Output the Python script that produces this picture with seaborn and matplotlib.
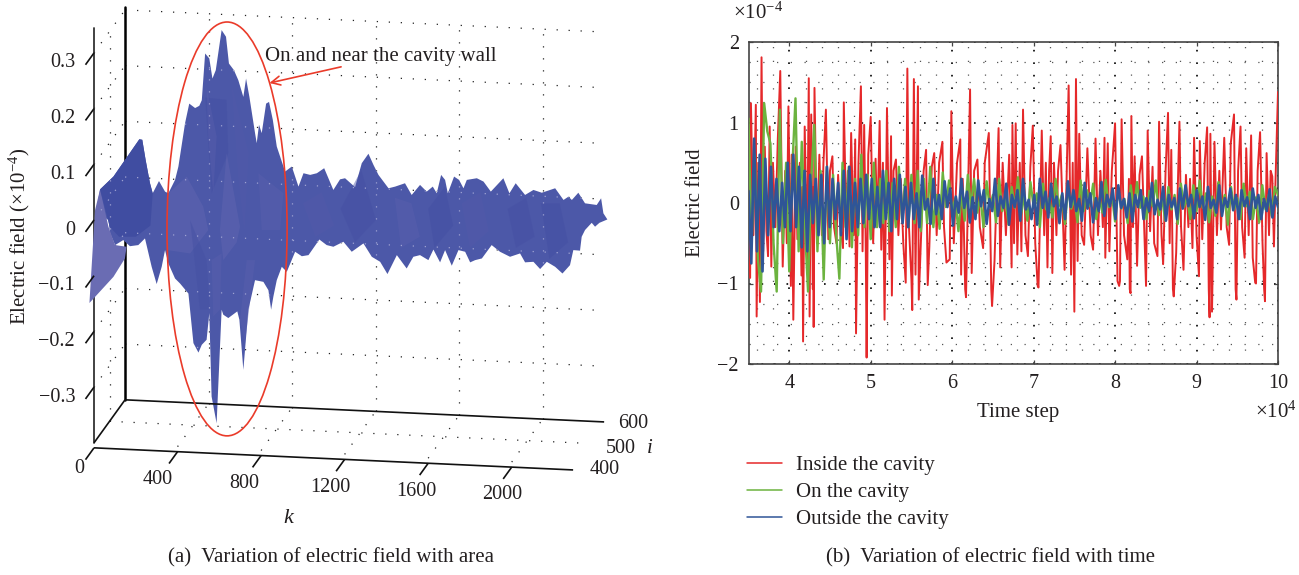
import numpy as np
import pandas as pd
import seaborn as sns
import matplotlib.pyplot as plt
from matplotlib.patches import Ellipse, Polygon
from matplotlib.ticker import MultipleLocator, FixedLocator

# left panel: silhouette of the surface, k along the axis, field in 1e-4
upper_k = [10, 29, 93, 217, 231, 247, 268, 281, 311, 340, 356, 388, 404, 436, 456, 484, 504, 516, 532, 552, 567, 583,
           611, 632, 646, 670, 691, 715, 728, 744, 771, 779, 790, 803, 824, 838, 856, 875, 899, 915, 947, 979, 1003,
           1035, 1067, 1102, 1146, 1178, 1202, 1250, 1282, 1314, 1338, 1362, 1410, 1442, 1489, 1521, 1561, 1593, 1622,
           1641, 1662, 1681, 1694, 1724, 1748, 1769, 1785, 1833, 1865, 1900, 1960, 1989, 2019, 2064, 2104, 2144, 2208,
           2248, 2272, 2288, 2319, 2351, 2407, 2428, 2439, 2458]
upper_field = [.015, .055, .078, .145, .144, .108, .066, .048, .070, .051, .048, .072, .096, .174, .209, .201, .205,
               .215, .299, .290, .254, .269, .341, .329, .281, .269, .251, .221, .254, .221, .156, .138, .171, .156,
               .209, .212, .180, .132, .105, .087, .096, .060, .084, .081, .084, .093, .054, .073, .075, .059, .102,
               .119, .099, .081, .057, .060, .066, .045, .063, .051, .060, .048, .081, .072, .048, .078, .072, .057,
               .072, .075, .069, .051, .075, .048, .066, .045, .054, .049, .057, .036, .042, .036, .049, .030, .027,
               .039, .012, .001]
lower_k = [2420, 2399, 2383, 2351, 2335, 2327, 2295, 2279, 2243, 2208, 2168, 2136, 2104, 2064, 2040, 1992, 1944, 1904,
           1857, 1825, 1801, 1777, 1745, 1713, 1681, 1657, 1625, 1601, 1561, 1529, 1497, 1450, 1405, 1370, 1330, 1290,
           1234, 1194, 1146, 1114, 1079, 1027, 995, 963, 923, 899, 875, 859, 848, 835, 811, 771, 739, 715, 696, 686,
           643, 619, 611, 587, 563, 552, 539, 516, 500, 476, 452, 412, 388, 356, 340, 324, 300, 276, 244, 212, 172,
           140, 101, 77, 69]
lower_field = [-.005, -.012, -.005, -.018, -.030, -.055, -.054, -.081, -.096, -.084, -.075, -.088, -.075, -.076, -.060,
               -.066, -.057, -.045, -.069, -.072, -.076, -.057, -.054, -.082, -.054, -.076, -.053, -.072, -.063, -.066,
               -.087, -.063, -.097, -.075, -.066, -.042, -.057, -.039, -.048, -.045, -.035, -.063, -.065, -.057, -.093,
               -.084, -.108, -.137, -.161, -.126, -.111, -.108, -.161, -.269, -.179, -.164, -.176, -.170, -.161, -.365,
               -.317, -.167, -.215, -.224, -.238, -.221, -.132, -.114, -.105, -.078, -.054, -.084, -.115, -.084, -.033,
               -.045, -.047, -.036, -.045, -.024, .0]
flap_k = [5, -22, 93, 148, 156, 101, 69, 29]
flap_field = [.018, -.149, -.102, -.069, -.048, -.045, -.012, .055]
hump_k = [29, 93, 217, 231, 247, 268, 281, 270, 200, 120, 75]
hump_field = [.055, .078, .145, .144, .108, .066, .048, -.01, -.03, -.03, -.012]
# shaded facets inside the silhouette: k list, field list, colour
facets = [
    ([356, 444, 523, 547, 460, 351], [.048, .078, .024, -.018, -.06, -.054], '#6367b1'),
    ([532, 635, 643, 563], [.22, .216, .12, .048], '#434fa2'),
    ([539, 587, 571, 547], [.239, .15, .048, .15], '#5a60ad'),
    ([635, 699, 683, 619, 603], [.12, -.012, -.04, -.072, -.018], '#6367b1'),
    ([787, 907, 891, 803], [.084, .048, -.018, -.018], '#5a60ad'),
    ([460, 539, 555, 507], [.0, -.072, -.161, -.161], '#4450a3'),
    ([563, 611, 603, 571], [-.072, -.06, -.161, -.173], '#5a60ad'),
    ([731, 771, 723, 699], [-.072, -.072, -.221, -.179], '#5a60ad'),
    ([660, 740, 720, 690], [.24, .12, -.02, .08], '#525aa9'),
    ([1000, 1090, 1150, 1060], [.03, .05, -.01, -.03], '#5359aa'),
    ([1180, 1280, 1350, 1250], [.02, .09, .0, -.04], '#454fa3'),
    ([1440, 1520, 1560, 1470], [.04, .03, -.03, -.05], '#5a5fae'),
    ([1600, 1680, 1720, 1630], [.02, .06, -.01, -.05], '#434ea2'),
    ([1760, 1850, 1890, 1800], [.03, .05, -.02, -.05], '#535aaa'),
    ([1980, 2070, 2110, 2020], [.02, .04, -.03, -.05], '#454fa3'),
    ([2140, 2230, 2270, 2180], [.03, .03, -.04, -.07], '#434ea2'),
]

k_ticks = [0, 400, 800, 1200, 1600, 2000]
k_tick_labels = ['0', '400', '800', '1200', '1600', '2000']
i_ticks = [400, 500, 600]
field_ticks = [-.3, -.2, -.1, 0, .1, .2, .3]
field_tick_labels = ['\u22120.3', '\u22120.2', '\u22120.1', '0', '0.1', '0.2', '0.3']

# right panel: time step in 1e4, field in 1e-4
red_t = [3.50, 3.52, 3.53, 3.56, 3.59, 3.60, 3.62, 3.64, 3.66, 3.68, 3.70, 3.72, 3.74, 3.76, 3.78, 3.80, 3.83, 3.86,
         3.89, 3.92, 3.95, 3.97, 3.99, 4.02, 4.03, 4.05, 4.08, 4.10, 4.13, 4.15, 4.16, 4.17, 4.19, 4.22, 4.24, 4.25,
         4.27, 4.29, 4.295, 4.30, 4.31, 4.34, 4.37, 4.40, 4.42, 4.45, 4.48, 4.50, 4.53, 4.55, 4.58, 4.60, 4.63, 4.66,
         4.67, 4.70, 4.72, 4.74, 4.76, 4.79, 4.81, 4.82, 4.85, 4.88, 4.90, 4.92, 4.94, 4.95, 4.97, 5.00, 5.03, 5.06,
         5.08, 5.11, 5.13, 5.15, 5.17, 5.20, 5.23, 5.25, 5.26, 5.28, 5.31, 5.34, 5.37, 5.40, 5.43, 5.45, 5.47, 5.50,
         5.51, 5.53, 5.55, 5.58, 5.59, 5.62, 5.65, 5.68, 5.70, 5.72, 5.75, 5.78, 5.81, 5.84, 5.88, 5.90, 5.93, 5.97,
         5.99, 6.02, 6.06, 6.10, 6.11, 6.13, 6.16, 6.17, 6.22, 6.24, 6.27, 6.31, 6.34, 6.38, 6.40, 6.45, 6.48, 6.49,
         6.52, 6.57, 6.59, 6.62, 6.66, 6.70, 6.73, 6.74, 6.76, 6.78, 6.80, 6.83, 6.85, 6.87, 6.90, 6.93, 6.96, 6.99,
         7.02, 7.05, 7.06, 7.10, 7.13, 7.15, 7.17, 7.19, 7.21, 7.23, 7.25, 7.28, 7.30, 7.33, 7.38, 7.43, 7.46, 7.48,
         7.50, 7.52, 7.54, 7.56, 7.59, 7.62, 7.66, 7.70, 7.73, 7.76, 7.79, 7.82, 7.85, 7.87, 7.88, 7.91, 7.93, 7.96,
         8.00, 8.03, 8.05, 8.06, 8.08, 8.11, 8.15, 8.17, 8.18, 8.19, 8.20, 8.22, 8.24, 8.27, 8.30, 8.33, 8.36, 8.38,
         8.40, 8.43, 8.46, 8.48, 8.52, 8.54, 8.57, 8.59, 8.62, 8.65, 8.67, 8.69, 8.71, 8.72, 8.75, 8.79, 8.81, 8.84,
         8.87, 8.90, 8.92, 8.95, 8.97, 9.00, 9.03, 9.04, 9.07, 9.10, 9.13, 9.15, 9.16, 9.17, 9.19, 9.22, 9.25, 9.28,
         9.30, 9.34, 9.37, 9.40, 9.42, 9.46, 9.48, 9.49, 9.51, 9.54, 9.56, 9.59, 9.61, 9.64, 9.67, 9.69, 9.72, 9.73,
         9.75, 9.78, 9.81, 9.83, 9.84, 9.86, 9.89, 9.91, 9.93, 9.95, 9.97, 10.0]
red_v = [.1, -.93, 1.24, -.4, 1.22, -1.41, .5, -1.23, 1.81, -.6, .7, -.35, -.66, .95, -.79, .5, -.3, .8,
         1.64, -.79, .4, -.5, 1.2, -1.03, .6, -1.45, .7, -.45, .5, -.9, .2, -1.72, .95, -.7, 1.55, -1.41,
         1.1, -1.07, .2, -1.54, 1.43, -.5, .6, -.4, .5, 1.16, -.45, .4, .58, -.3, -.5, .35, -.3, -.56,
         1.25, -.3, .4, -.54, .87, -.4, .79, -1.62, .5, 1.45, -.6, .97, -.62, -1.92, .6, 1.07, -.5, .55,
         -.3, 1.02, -.58, .5, -1.45, 1.18, -.7, .83, -1.15, .4, .54, -.4, .3, -.5, -.99, 1.67, -.3, -.95,
         -1.33, 1.54, -.89, 1.45, -1.2, -.37, .4, .66, -1.02, -.54, .45, .62, -.4, .5, .76, -.3, -.74, -.7,
         1.14, -.5, .5, .79, -.89, .3, -1.07, -1.17, 1.41, -.87, .4, .54, -.3, -.56, .5, .87, -1.07, -1.28,
         -.72, .93, -.8, .5, -.4, .6, -.8, .97, -.5, .99, -.64, .5, -.6, 1.16, -.4, -.66, .45, .96,
         -.5, -1.03, -1.05, .9, -.4, .5, -.8, .4, .83, -.87, .5, -.4, .4, .72, -.83, 1.46, -.89, .5,
         -1.35, 1.54, -.72, .86, -.4, -.52, .68, -.4, -.58, .8, -.4, .4, -.3, .81, -.68, .74, -.6, .4,
         .99, -.97, -1.03, -.97, 1.04, -.4, -.7, .3, -1.07, -1.12, 1.08, -.3, .58, -.78, .35, .58, -.4, -1.03,
         .9, -.35, .45, -.5, -.66, 1.01, -.4, -.76, .4, 1.12, -.5, .66, -1.07, -1.16, -.62, 1.01, -.3, -.83,
         .35, -.3, .3, -.56, .81, -.4, -.91, .77, -.45, .5, .94, -1.07, -1.42, .86, -1.35, .76, -.4, .4,
         -.33, .81, -.3, -.52, .74, 1.1, -1.07, -1.2, .4, .95, -.3, -.68, .68, -.4, .84, -.68, -.99, -1.0,
         .4, .88, -.5, -1.07, -1.22, .62, -.4, .4, .33, -.54, .3, 1.38]
green_v = [1.05, -.5, .6, -.7, -1.1, 1.24, .89, .74, -.5, -1.1, 1.16, -.5, .5, -.85, .45, 1.3, -.6, .76, -.3, -1.1,
           .3, .97, -.6, .4, -.95, .45, -.5, .35, -.4, -.94, .5, -.3, .45, -.55, .3, -.4, .6, -.3, .35, -.45,
           .5, -.3, .3, -.25, .4, -.35, .25, -.3, .45, -.2, .3, -.3, .35, -.25, .4, -.35, .3, -.25, .45, -.3,
           .1, -.32, .38, -.05, .28, -.1, .06, -.35, .12, -.22, .35, -.04, .3, -.12, .08, -.3, .27, -.06, .1, -.24,
           .3, -.1, .05, -.27, .2, -.06, .32, -.14, .08, -.22, .26, -.05, .12, -.3, .24, -.08, .06, -.18, .3, -.04,
           .1, -.26, .2, -.07, .05, -.24, .28, -.1, .16, -.04, .24, -.2, .06, -.12, .29, -.05, .1, -.23, .18, -.07,
           .05, -.25, .22, -.1, .26, -.06, .08, -.2, .15, -.04, .28, -.15, .06, -.22, .2, -.08, .1, -.26, .24, -.05,
           .07, -.2, .22, -.1, .28, -.06, .12, -.24, .08, -.16, .26, -.05, .1, -.27, .2, -.08, .06, -.2, .24, -.04,
           .14, -.2, .07, -.24, .22, -.08, .1, -.16, .2, .1]
blue_v = [.15, -.75, .8, -.6, .6, -.85, .55, -.4, .45, -.3, .3, -.35, .25, -.3, .5, -.35, .6, -.3, .45, -.55,
          .4, -.6, .35, -.25, .3, -.4, .35, -.5, .45, -.3, .3, -.2, .25, -.4, .4, -.45, .45, -.35, .25, -.3,
          .3, -.25, .35, -.2, .3, -.3, .2, -.3, .4, -.2, .25, -.35, .3, -.2, .35, -.25, .2, -.3, .25, -.2,
          .12, -.3, .34, -.08, .05, -.26, .3, -.14, .1, -.2, .27, -.05, .18, -.28, .08, -.12, .3, -.06, .14, -.24,
          .07, -.2, .28, -.04, .16, -.26, .05, -.1, .3, -.16, .08, -.06, .24, -.27, .1, -.05, .16, -.22, .3, -.08,
          .04, -.2, .1, -.27, .3, -.06, .14, -.18, .24, -.04, .08, -.25, .12, -.2, .27, -.05, .16, -.1, .05, -.22,
          .25, -.07, .12, -.24, .06, -.1, .26, -.16, .1, -.04, .18, -.2, .22, -.06, .05, -.18, .12, -.23, .1, -.05,
          .16, -.2, .06, -.1, .25, -.14, .04, -.08, .2, -.22, .1, -.05, .06, -.2, .18, -.07, .22, -.04, .1, -.19,
          .16, -.05, .08, -.21, .2, -.06, .04, -.12, .22, -.16, .06, -.05, .18, -.09, .1, -.2, .16, -.04, .07, -.2,
          .18, -.06, .1, -.2, .05, -.1, .17, -.18, .08, -.05]
region_names = ['Inside the cavity', 'On the cavity', 'Outside the cavity']
region_colors = ['#e5282a', '#6cb33f', '#2f5597']
region_widths = [1.4, 1.7, 1.9]

sns.set_theme(style='white')
plt.rcParams['font.family'] = ['Liberation Serif', 'DejaVu Sans']
plt.rcParams['mathtext.default'] = 'regular'
plt.rcParams['mathtext.fontset'] = 'custom'
plt.rcParams['mathtext.rm'] = 'Liberation Serif'
INK = '#231f20'
FS = 15
TICK_FS = 14.5

fig = plt.figure(figsize=(12.99, 5.75), dpi=100)


def project(k, i, field):
    # oblique view of the k, i, field box onto the flat axes
    k, i, field = np.asarray(k, float), np.asarray(i, float), np.asarray(field, float)
    return k + (i - 400) * 0.7425, field - k * 1.73e-5 + (i - 400) * 3.86e-4


# ---- (a) surface ----
ax = fig.add_axes([0, 0, 660 / 1299, 1])
ax.set_xlim(-450.2, 2710)
ax.set_ylim(-.6373, .395)
ax.axis('off')

surface = ax.fill(upper_k + lower_k, upper_field + lower_field, color='#4c58a8', lw=0, zorder=2)[0]
ax.fill(flap_k, flap_field, color='#6a6cb3', lw=0, zorder=3)
ax.fill(hump_k, hump_field, color='#404da1', lw=0, zorder=3)
for fk, ff, fc in facets:
    ax.fill(fk, ff, color=fc, lw=0, zorder=3, alpha=.45)

# dotted box grid: dark on the walls, pale where it shows through the surface
k_end = 2294
grid_lines = []
for f in field_ticks:
    grid_lines.append(project([0, k_end], [600, 600], [f, f]))
    grid_lines.append(project([0, 0], [400, 600], [f, f]))
for k in k_ticks[1:]:
    grid_lines.append(project([k, k], [600, 600], [-.4, .3]))
    grid_lines.append(project([k, k], [400, 600], [-.4, -.4]))
grid_lines.append(project([0, k_end], [500, 500], [-.4, -.4]))
grid_lines.append(project([0, 0], [500, 500], [-.4, .3]))
for gx, gy in grid_lines:
    ax.plot(gx, gy, color='#222222', lw=.9, ls=(0, (1, 8.6)), zorder=1)
    pale = ax.plot(gx, gy, color='#9ea2d2', lw=.9, ls=(0, (1, 8.6)), zorder=4)[0]
    pale.set_clip_path(Polygon(surface.get_xy(), transform=ax.transData))

AXIS = dict(color='#111111', lw=1.2, zorder=5, solid_capstyle='butt')
ax.plot(*project([0, k_end], [400, 400], [-.409, -.409]), **AXIS)
ax.plot(*project([0, k_end], [600, 600], [-.4, -.4]), **AXIS)
ax.plot(*project([0, 0], [400, 600], [-.4, -.4]), **AXIS)
ax.plot(*project([0, 0], [400, 400], [-.4, .344]), color='#333333', lw=1.3, zorder=1)
ax.plot(*project([0, 0], [600, 600], [-.4, .305]), color='black', lw=1.8, zorder=1)
for f, lab in zip(field_ticks, field_tick_labels):
    ax.plot(*project([0, 0], [400, 345], [f, f]), **AXIS)
    ax.text(-91, f - .018, lab, ha='right', va='center', fontsize=TICK_FS, color=INK)
for k, lab in zip(k_ticks, k_tick_labels):
    ax.plot(*project([k, k], [400, 345], [-.409, -.409]), **AXIS)
    if k == 0:
        ax.text(-72, -.446, lab, ha='center', va='center', fontsize=TICK_FS, color=INK)
    else:
        x, y = project(k, 400, -.409)
        ax.text(x - 105 + k * .03, y - .05, lab, ha='center', va='center', fontsize=TICK_FS, color=INK)
for i, x, y in zip(i_ticks, [2443, 2521, 2581], [-.447, -.41, -.365]):
    ax.text(x, y, str(i), ha='center', va='center', fontsize=TICK_FS, color=INK)
ax.text(2662, -.41, 'i', style='italic', ha='center', va='center', fontsize=FS, color=INK)
ax.text(929, -.536, 'k', style='italic', ha='center', va='center', fontsize=FS + 1, color=INK)
ax.text(-355, -.03, 'Electric field (\u00d710$^{-4}$)', rotation=90, ha='center', va='center',
        fontsize=FS, color=INK)
ax.add_patch(Ellipse((637, -.016), 575, .743, fill=False, ec='#ea3b2a', lw=1.2, zorder=6))
ax.text(1374, .293, 'On and near the cavity wall', ha='center', va='center', fontsize=FS, color=INK, zorder=7)
ax.annotate('', xy=(840, .246), xytext=(1183, .275),
            arrowprops=dict(arrowstyle='->', color='#ea3b2a', lw=1.2, mutation_scale=16, shrinkA=0, shrinkB=0))
fig.text(331 / 1299, 1 - 558 / 575, '(a)  Variation of electric field with area', ha='center', va='center',
         fontsize=FS, color=INK)

# ---- (b) time series ----
frames = [
    pd.DataFrame({'step': np.array(red_t) * 1e4, 'field': red_v, 'region': region_names[0]}),
    pd.DataFrame({'step': np.linspace(3.5e4, 1e5, len(green_v)), 'field': green_v, 'region': region_names[1]}),
    pd.DataFrame({'step': np.linspace(3.5e4, 1e5, len(blue_v)), 'field': blue_v, 'region': region_names[2]}),
]
series = pd.concat(frames, ignore_index=True)

ax2 = fig.add_axes([748.5 / 1299, 1 - 364 / 575, 529.5 / 1299, 322 / 575])
sns.lineplot(data=series, x='step', y='field', hue='region', hue_order=region_names, palette=region_colors,
             estimator=None, sort=False, lw=1.1, ax=ax2, zorder=3)
for line, width in zip(ax2.lines, region_widths):
    line.set_linewidth(width)
ax2.set_xlim(3.5e4, 1e5)
ax2.set_ylim(-2, 2)
ax2.xaxis.set_major_locator(FixedLocator(np.arange(4e4, 1.01e5, 1e4)))
ax2.yaxis.set_major_locator(MultipleLocator(1))
ax2.xaxis.set_minor_locator(MultipleLocator(2000))
ax2.yaxis.set_minor_locator(MultipleLocator(.25))
ax2.set_xticklabels(['4', '5', '6', '7', '8', '9', '10'])
ax2.set_yticks([-2, -1, 0, 1, 2], ['\u22122', '\u22121', '0', '1', '2'])
ax2.grid(True, which='major', color='black', lw=1.2, ls=(0, (1, 6.5)), zorder=0)
ax2.grid(True, which='minor', color='#555555', lw=.9, ls=(0, (1, 10)), zorder=0)
ax2.set_axisbelow(True)
ax2.tick_params(which='major', direction='in', length=3, width=.9, color='#444444', top=True, right=True,
                bottom=True, left=True, labelsize=TICK_FS, labelcolor=INK, pad=7)
ax2.tick_params(which='minor', length=0)
for s in ax2.spines.values():
    s.set_color('#444444')
    s.set_linewidth(1.2)
ax2.set_xlabel('')
ax2.set_ylabel('')
fig.text(1018 / 1299, 1 - 412 / 575, 'Time step', ha='center', va='center', fontsize=FS, color=INK)
fig.text(695 / 1299, 1 - 203 / 575, 'Electric field', rotation=90, ha='center', va='center', fontsize=FS, color=INK)
fig.text(733 / 1299, 1 - 13 / 575, '\u00d710$^{-4}$', ha='left', va='center', fontsize=FS, color=INK)
fig.text(1255 / 1299, 1 - 412 / 575, '\u00d710$^{4}$', ha='left', va='center', fontsize=FS, color=INK)
sns.move_legend(ax2, 'upper left', bbox_to_anchor=(-.003, -.284), frameon=False, title=None, fontsize=FS,
                handlelength=1.68, handletextpad=.67, labelspacing=.36, borderpad=0, borderaxespad=0,
                labelcolor=INK)
fig.text(990 / 1299, 1 - 558 / 575, '(b)  Variation of electric field with time', ha='center', va='center',
         fontsize=FS, color=INK)

fig.savefig('out.png', dpi=100)
